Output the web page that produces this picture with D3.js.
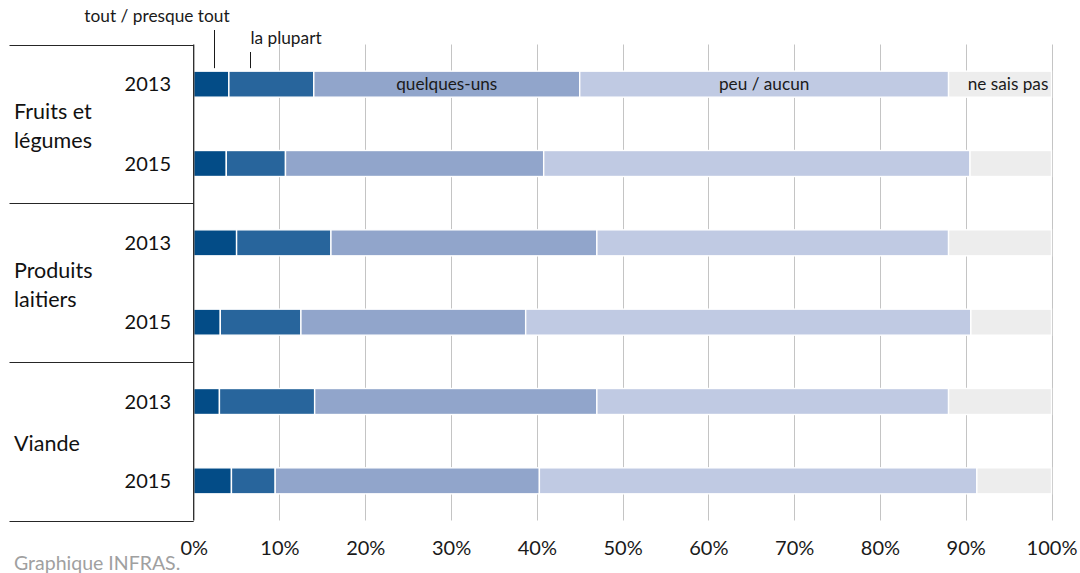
<!DOCTYPE html>
<html>
<head>
<meta charset="utf-8">
<script src="https://cdn.jsdelivr.net/npm/d3@7"></script>
<style>
  html, body { margin: 0; padding: 0; background: #fff; }
  svg { display: block; font-family: Lato, "Open Sans", sans-serif; }
</style>
</head>
<body>
<svg id="chart" width="1080" height="573"></svg>
<script>
// Answer categories, from "all" to "don't know"
const answers = ["tout / presque tout", "la plupart", "quelques-uns", "peu / aucun", "ne sais pas"];
const colors = ["#034c87", "#28659c", "#91a5cb", "#c0cae3", "#ededed"];

// Product groups and survey years
const groups = [["Fruits et", "légumes"], ["Produits", "laitiers"], ["Viande"]];
const years = ["2013", "2015"];

// Shares (%) per answer, one array per row (group × year)
const fruits2013 = [4.1, 9.9, 31.0, 43.0, 12.0];
const fruits2015 = [3.8, 6.9, 30.1, 49.7, 9.5];
const laitiers2013 = [5.0, 11.0, 31.0, 41.0, 12.0];
const laitiers2015 = [3.1, 9.4, 26.2, 51.9, 9.4];
const viande2013 = [3.0, 11.1, 32.9, 41.0, 12.0];
const viande2015 = [4.4, 5.1, 30.8, 51.0, 8.7];

const tickValues = [0, 10, 20, 30, 40, 50, 60, 70, 80, 90, 100];
const source = "Graphique INFRAS.";

const rows = [
  { g: 0, year: years[0], values: fruits2013 },
  { g: 0, year: years[1], values: fruits2015 },
  { g: 1, year: years[0], values: laitiers2013 },
  { g: 1, year: years[1], values: laitiers2015 },
  { g: 2, year: years[0], values: viande2013 },
  { g: 2, year: years[1], values: viande2015 }
];
rows.forEach((r, i) => { r.id = i; });

const svg = d3.select("#chart");
const plotTop = 44.5, plotBottom = 520.5, plotLeft = 193.7, plotRight = 1051.5;

const x = d3.scaleLinear().domain([0, 100]).range([plotLeft, plotRight]);
const y = d3.scaleBand().domain(rows.map(r => r.id)).range([plotTop, plotBottom])
  .paddingInner(0.672).paddingOuter(0.336);
const step = y.step();

// vertical gridlines
svg.append("g").selectAll("line")
  .data(tickValues.filter(v => v > 0))
  .join("line")
  .attr("x1", d => Math.round(x(d)) + 0.5).attr("x2", d => Math.round(x(d)) + 0.5)
  .attr("y1", plotTop).attr("y2", plotBottom)
  .attr("stroke", "#c4c4c4").attr("stroke-width", 1);

// stacked bars
const stack = rows.map(r => {
  let acc = 0;
  return r.values.map((v, k) => {
    const s = { row: r, k, x0: acc, x1: acc + v };
    acc += v;
    return s;
  });
});

svg.append("g").selectAll("g")
  .data(stack)
  .join("g")
  .selectAll("rect")
  .data(d => d)
  .join("rect")
  .attr("x", d => x(d.x0))
  .attr("width", d => x(d.x1) - x(d.x0))
  .attr("y", d => y(d.row.id))
  .attr("height", y.bandwidth())
  .attr("fill", d => colors[d.k])
  .attr("stroke", "#ffffff")
  .attr("stroke-width", 1.4);

// in-bar labels for the last three answers (first row)
const first = stack[0];
svg.append("g").selectAll("text")
  .data(first.filter(d => d.k >= 2))
  .join("text")
  .attr("x", d => d.k === 4 ? x((d.x0 + d.x1) / 2) + 8 : x((d.x0 + d.x1) / 2))
  .attr("y", y(0) + y.bandwidth() / 2)
  .attr("dy", "0.35em")
  .attr("text-anchor", "middle")
  .attr("font-size", 17.2)
  .attr("fill", "#1a1a1a")
  .text(d => answers[d.k]);

// callouts for the first two answers
const callouts = [
  { k: 0, at: 2.4, lineTop: 30, tx: 157, ty: 22 },
  { k: 1, at: 6.6, lineTop: 52, tx: 286, ty: 44 }
];
const cg = svg.append("g");
callouts.forEach(c => {
  cg.append("line")
    .attr("x1", Math.round(x(c.at)) + 0.5).attr("x2", Math.round(x(c.at)) + 0.5)
    .attr("y1", c.lineTop).attr("y2", y(0) - 3)
    .attr("stroke", "#1a1a1a").attr("stroke-width", 1);
  cg.append("text")
    .attr("x", c.tx).attr("y", c.ty)
    .attr("text-anchor", "middle")
    .attr("font-size", 17.3)
    .attr("fill", "#1a1a1a")
    .text(answers[c.k]);
});

// x axis tick labels
const axis = d3.axisBottom(x).tickValues(tickValues)
  .tickFormat(d => d + "%").tickSize(0).tickPadding(0);
const ax = svg.append("g").attr("transform", `translate(0, ${plotBottom + 20})`).call(axis);
ax.select(".domain").remove();
ax.selectAll("text").attr("font-size", 20).attr("fill", "#1a1a1a")
  .attr("font-family", "Lato, 'Open Sans', sans-serif");

// left frame: axis line and group separators
svg.append("line")
  .attr("x1", plotLeft).attr("x2", plotLeft).attr("y1", plotTop).attr("y2", plotBottom)
  .attr("stroke", "#262626").attr("stroke-width", 1.3);
svg.append("g").selectAll("line")
  .data(d3.range(groups.length + 1))
  .join("line")
  .attr("x1", 9.5).attr("x2", plotLeft)
  .attr("y1", i => Math.round(plotTop + i * 2 * step) + 0.5)
  .attr("y2", i => Math.round(plotTop + i * 2 * step) + 0.5)
  .attr("stroke", "#262626").attr("stroke-width", 1.2);

// year labels
svg.append("g").selectAll("text")
  .data(rows)
  .join("text")
  .attr("x", 171)
  .attr("y", d => y(d.id) + y.bandwidth() / 2)
  .attr("dy", "0.36em")
  .attr("text-anchor", "end")
  .attr("font-size", 20)
  .attr("fill", "#111")
  .text(d => d.year);

// group labels
const gl = svg.append("g").selectAll("text")
  .data(groups)
  .join("text")
  .attr("x", 14)
  .attr("y", (d, i) => plotTop + (i * 2 + 1) * step + 2)
  .attr("font-size", 21.5)
  .attr("fill", "#111");
gl.selectAll("tspan")
  .data(d => d.map((line, j) => ({ line, j, n: d.length })))
  .join("tspan")
  .attr("x", 14)
  .attr("dy", d => d.j === 0 ? `${0.36 - (d.n - 1) * 0.68}em` : "1.36em")
  .text(d => d.line);

// source note
svg.append("text")
  .attr("x", 14).attr("y", 570)
  .attr("font-size", 19.5)
  .attr("fill", "#a0a0a0")
  .text(source);
</script>
</body>
</html>
